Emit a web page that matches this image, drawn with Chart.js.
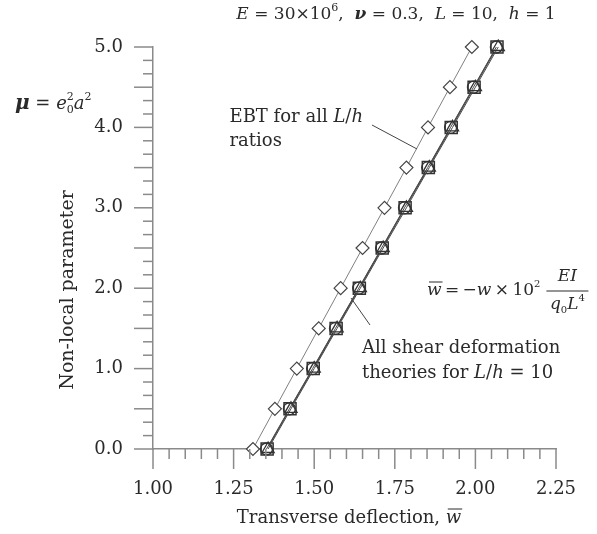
<!DOCTYPE html>
<html>
<head>
<meta charset="utf-8">
<script src="https://cdn.jsdelivr.net/npm/chart.js@4.4.0/dist/chart.umd.min.js"></script>
<style>
  html, body { margin: 0; padding: 0; background: #fff; }
  #wrap { width: 597px; height: 534px; }
</style>
</head>
<body>
<div id="wrap"><canvas id="deflectionChart" width="597" height="534"></canvas></div>
<script>
// non-local parameter values (y)
const muValues = [0, 0.5, 1.0, 1.5, 2.0, 2.5, 3.0, 3.5, 4.0, 4.5, 5.0];
// transverse deflection
const ebtValues = [1.310, 1.378, 1.446, 1.514, 1.582, 1.650, 1.718, 1.786, 1.853, 1.921, 1.989];
const tbtValues = [1.354, 1.425, 1.497, 1.568, 1.640, 1.711, 1.782, 1.854, 1.925, 1.996, 2.067];
const rbtValues = [1.352, 1.423, 1.495, 1.566, 1.638, 1.709, 1.780, 1.852, 1.923, 1.994, 2.065];
const lbtValues = [1.357, 1.428, 1.500, 1.571, 1.643, 1.714, 1.786, 1.857, 1.929, 2.000, 2.071];
// tick labels
const xTickLabels = ['1.00', '1.25', '1.50', '1.75', '2.00', '2.25'];
const yTickLabels = ['0.0', '1.0', '2.0', '3.0', '4.0', '5.0'];

const SERIF = '"DejaVu Serif", serif';
const reg = s => s + 'px ' + SERIF;
const ita = s => 'italic ' + s + 'px ' + SERIF;
const bit = s => 'bold italic ' + s + 'px ' + SERIF;
const axisGrey = '#8a8a8a';
const ink = '#2a2a2a';
const TS = 18; // text size

function pts(xs) {
    return xs.map((v, i) => ({ x: v, y: muValues[i] }));
}

// width of a row of text pieces
function runsWidth(ctx, parts) {
    let w = 0;
    parts.forEach(p => {
        if (p.stack) {
            let m = 0;
            p.stack.forEach(s => { ctx.font = s.f; m = Math.max(m, ctx.measureText(s.t).width); });
            w += m;
        } else {
            ctx.font = p.f; w += ctx.measureText(p.t).width;
        }
    });
    return w;
}

// draw a row of text pieces (different fonts / raised / lowered)
function drawRuns(ctx, x, y, parts, align) {
    ctx.textBaseline = 'middle';
    ctx.textAlign = 'left';
    const w = runsWidth(ctx, parts);
    let cx = align === 'center' ? x - w / 2 : (align === 'right' ? x - w : x);
    parts.forEach(p => {
        if (p.stack) {
            let m = 0;
            p.stack.forEach(s => {
                ctx.font = s.f;
                ctx.fillText(s.t, cx, y + (s.dy || 0));
                m = Math.max(m, ctx.measureText(s.t).width);
            });
            cx += m;
        } else {
            ctx.font = p.f;
            ctx.fillText(p.t, cx, y + (p.dy || 0));
            const tw = ctx.measureText(p.t).width;
            if (p.bar) {
                ctx.beginPath();
                ctx.lineWidth = 1;
                ctx.moveTo(cx + 2, y - 9);
                ctx.lineTo(cx + tw + 1, y - 9);
                ctx.stroke();
            }
            cx += tw;
        }
    });
    return w;
}

const decorPlugin = {
    id: 'decor',
    afterDraw(chart) {
        const ctx = chart.ctx;
        const xs = chart.scales.x, ys = chart.scales.y;
        ctx.save();
        ctx.strokeStyle = axisGrey;
        ctx.lineWidth = 1.5;
        // x tick marks, every 0.05, long every 0.25
        for (let k = 0; k <= 25; k++) {
            const px = xs.getPixelForValue(1 + k * 0.05);
            const len = k % 5 === 0 ? 20 : 10;
            ctx.beginPath();
            ctx.moveTo(px, ys.bottom);
            ctx.lineTo(px, ys.bottom + len);
            ctx.stroke();
        }
        // y tick marks, six per unit, long every 0.5
        for (let k = 0; k <= 30; k++) {
            const py = ys.getPixelForValue(k / 6);
            const len = k % 3 === 0 ? 19 : 10;
            ctx.beginPath();
            ctx.moveTo(xs.left, py);
            ctx.lineTo(xs.left - len, py);
            ctx.stroke();
        }

        ctx.fillStyle = ink;
        ctx.strokeStyle = ink;

        // heading
        drawRuns(ctx, 396, 15, [
            { t: 'E', f: ita(17) }, { t: ' = 30×10', f: reg(17) }, { t: '6', f: reg(11), dy: -7 },
            { t: ',  ', f: reg(17) }, { t: 'ν', f: bit(17) }, { t: ' = 0.3,  ', f: reg(17) },
            { t: 'L', f: ita(17) }, { t: ' = 10,  ', f: reg(17) },
            { t: 'h', f: ita(17) }, { t: ' = 1', f: reg(17) }
        ], 'center');

        // mu definition
        drawRuns(ctx, 15, 104, [
            { t: 'μ', f: bit(20) }, { t: ' = ', f: reg(TS) }, { t: 'e', f: ita(TS) },
            { stack: [{ t: '2', f: reg(11), dy: -7 }, { t: '0', f: reg(11), dy: 6 }] },
            { t: 'a', f: ita(TS) }, { t: '2', f: reg(11), dy: -7 }
        ], 'left');

        // axis titles
        drawRuns(ctx, 349, 518, [
            { t: 'Transverse deflection, ', f: reg(TS) }, { t: 'w', f: ita(TS), bar: true }
        ], 'center');
        ctx.save();
        ctx.translate(68, 290);
        ctx.rotate(-Math.PI / 2);
        drawRuns(ctx, 0, 0, [{ t: 'Non-local parameter', f: reg(19) }], 'center');
        ctx.restore();

        // EBT annotation
        const ebtLine = [
            { t: 'EBT for all ', f: reg(TS) }, { t: 'L', f: ita(TS) }, { t: '/', f: reg(TS) }, { t: 'h', f: ita(TS) }
        ];
        const ebtW = runsWidth(ctx, ebtLine);
        drawRuns(ctx, 363 - ebtW, 117, ebtLine, 'left');
        drawRuns(ctx, 363 - ebtW, 141, [{ t: 'ratios', f: reg(TS) }], 'left');

        // shear annotation
        drawRuns(ctx, 362, 348, [{ t: 'All shear deformation', f: reg(TS) }], 'left');
        drawRuns(ctx, 362, 373, [
            { t: 'theories for ', f: reg(TS) }, { t: 'L', f: ita(TS) }, { t: '/', f: reg(TS) },
            { t: 'h', f: ita(TS) }, { t: ' = 10', f: reg(TS) }
        ], 'left');

        // leader lines
        ctx.lineWidth = 1;
        ctx.strokeStyle = '#444';
        ctx.beginPath();
        ctx.moveTo(372, 125); ctx.lineTo(417, 149);
        ctx.moveTo(351, 298); ctx.lineTo(370, 325);
        ctx.stroke();

        // definition of w bar
        ctx.strokeStyle = ink;
        const FS = 17;
        const wx = 427;
        const lw = drawRuns(ctx, wx, 291, [
            { t: 'w', f: ita(FS), bar: true }, { t: '\u2009=\u2009−', f: reg(FS) }, { t: 'w', f: ita(FS) },
            { t: '\u2009×\u200910', f: reg(FS) }, { t: '2', f: reg(10), dy: -7 }
        ], 'left');
        const fx = wx + lw + 6;
        const fracW = 42;
        drawRuns(ctx, fx + fracW / 2, 277, [{ t: 'EI', f: ita(FS) }], 'center');
        ctx.lineWidth = 1;
        ctx.beginPath();
        ctx.moveTo(fx, 291); ctx.lineTo(fx + fracW, 291);
        ctx.stroke();
        drawRuns(ctx, fx + fracW / 2, 305, [
            { t: 'q', f: ita(FS) }, { t: '0', f: reg(10), dy: 5 }, { t: 'L', f: ita(FS) }, { t: '4', f: reg(10), dy: -7 }
        ], 'center');

        ctx.restore();
    }
};

const ctxMain = document.getElementById('deflectionChart').getContext('2d');
new Chart(ctxMain, {
    type: 'scatter',
    data: {
        datasets: [
            {
                label: 'LBT',
                data: pts(lbtValues),
                showLine: true,
                clip: false,
                borderColor: '#4a4a4a',
                borderWidth: 1,
                pointStyle: 'triangle',
                pointRadius: 7,
                pointBorderWidth: 1.3,
                pointBorderColor: '#333',
                pointBackgroundColor: 'rgba(0,0,0,0)',
                order: 1
            },
            {
                label: 'RBT',
                data: pts(rbtValues),
                showLine: true,
                clip: false,
                borderColor: '#4a4a4a',
                borderWidth: 1,
                pointStyle: 'circle',
                pointRadius: 6,
                pointBorderWidth: 1.3,
                pointBorderColor: '#333',
                pointBackgroundColor: 'rgba(0,0,0,0)',
                order: 2
            },
            {
                label: 'TBT',
                data: pts(tbtValues),
                showLine: true,
                clip: false,
                borderColor: '#4a4a4a',
                borderWidth: 1.3,
                pointStyle: 'rect',
                pointRadius: 8.5,
                pointBorderWidth: 1.5,
                pointBorderColor: '#333',
                pointBackgroundColor: '#fff',
                order: 3
            },
            {
                label: 'EBT',
                data: pts(ebtValues),
                showLine: true,
                clip: false,
                borderColor: '#808080',
                borderWidth: 1,
                pointStyle: 'rectRot',
                pointRadius: 6.5,
                pointBorderWidth: 1.2,
                pointBorderColor: '#444',
                pointBackgroundColor: '#fff',
                order: 4
            }
        ]
    },
    options: {
        responsive: false,
        animation: false,
        events: [],
        layout: { padding: { left: 0, right: 41, top: 47, bottom: 0 } },
        plugins: { legend: { display: false }, tooltip: { enabled: false } },
        scales: {
            x: {
                type: 'linear',
                min: 1.0,
                max: 2.25,
                afterFit: s => { s.height = 534 - 449; s.paddingRight = 0; s.paddingLeft = 0; },
                afterBuildTicks: s => { s.ticks = xTickLabels.map(v => ({ value: parseFloat(v) })); },
                grid: { display: false, drawTicks: false },
                border: { display: true, color: axisGrey, width: 1.5 },
                ticks: {
                    padding: 30,
                    color: ink,
                    font: { family: SERIF, size: TS },
                    callback: (v) => v.toFixed(2)
                }
            },
            y: {
                type: 'linear',
                min: 0,
                max: 5,
                afterFit: s => { s.width = 153; s.paddingTop = 0; s.paddingBottom = 0; },
                afterBuildTicks: s => { s.ticks = yTickLabels.map(v => ({ value: parseFloat(v) })); },
                grid: { display: false, drawTicks: false },
                border: { display: true, color: axisGrey, width: 1.5 },
                ticks: {
                    padding: 30,
                    color: ink,
                    font: { family: SERIF, size: TS },
                    callback: (v) => v.toFixed(1)
                }
            }
        }
    },
    plugins: [decorPlugin]
});
</script>
</body>
</html>
